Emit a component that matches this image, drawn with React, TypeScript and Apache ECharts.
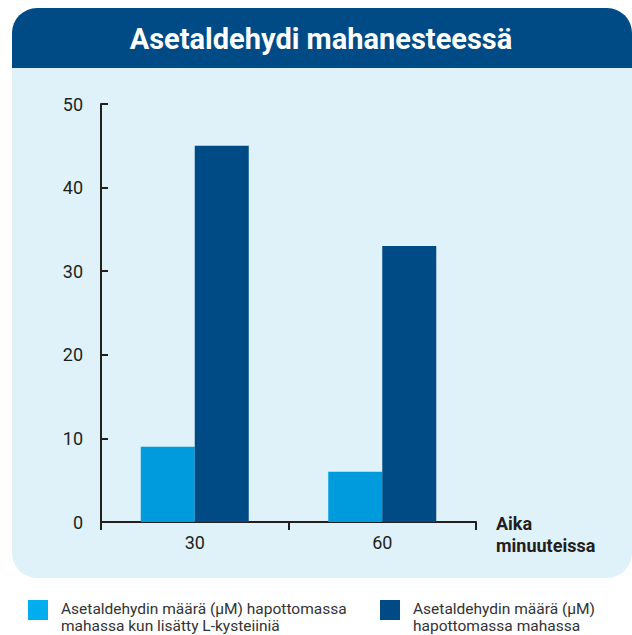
import React, { useEffect, useRef } from "react";
import * as echarts from "echarts";

const title = "Asetaldehydi mahanesteessä";
const categories = ["30", "60"];
const seriesNames = [
  "Asetaldehydin määrä (µM) hapottomassa\nmahassa kun lisätty L-kysteiiniä",
  "Asetaldehydin määrä (µM)\nhapottomassa mahassa",
];
const withCysteine = [9, 6];
const withoutCysteine = [45, 33];
const xAxisName = "Aika\nminuuteissa";

const FONT = "Roboto, 'Noto Sans', sans-serif";
const DARK = "#004b85";
const LIGHT = "#009bdc";
const LIGHT_LEGEND = "#00aeef";
const PANEL = "#dff2fa";
const INK = "#231f20";

export default function App() {
  const ref = useRef<HTMLDivElement>(null);
  useEffect(() => {
    if (!ref.current) return;
    const chart = echarts.init(ref.current, undefined, { renderer: "svg" });
    const legendColors = [LIGHT_LEGEND, DARK];
    const legendX = [28, 380];
    const legendGraphics = seriesNames.map((name, i) => ({
      type: "group",
      x: legendX[i],
      y: 600,
      children: [
        {
          type: "rect",
          shape: { x: 0, y: 0, width: 20, height: 20 },
          style: { fill: legendColors[i] },
        },
        {
          type: "text",
          x: 33,
          y: 0,
          style: {
            text: name,
            fill: "#333333",
            font: `15.5px ${FONT}`,
            lineHeight: 17,
            align: "left",
            verticalAlign: "top",
          },
        },
      ],
    }));
    chart.setOption({
      animation: false,
      backgroundColor: "#ffffff",
      textStyle: { fontFamily: FONT },
      graphic: [
        {
          type: "rect",
          z: -10,
          shape: { x: 12, y: 8, width: 620, height: 570, r: 25 },
          style: { fill: PANEL },
        },
        {
          type: "rect",
          z: -9,
          shape: { x: 12, y: 8, width: 620, height: 60, r: [25, 25, 0, 0] },
          style: { fill: DARK },
        },
        {
          type: "text",
          z: 10,
          x: 321,
          y: 39,
          style: {
            text: title,
            fill: "#ffffff",
            font: `bold 29px ${FONT}`,
            align: "center",
            verticalAlign: "middle",
          },
        },
        {
          type: "text",
          z: 10,
          x: 496,
          y: 512,
          style: {
            text: xAxisName,
            fill: INK,
            font: `bold 18px ${FONT}`,
            lineHeight: 22,
            align: "left",
            verticalAlign: "top",
          },
        },
        ...legendGraphics,
      ],
      grid: { left: 101, top: 104, width: 375, height: 418, containLabel: false },
      xAxis: {
        type: "category",
        data: categories,
        boundaryGap: true,
        axisLine: { show: true, lineStyle: { color: INK, width: 2 } },
        axisTick: { show: true, inside: false, length: 8, lineStyle: { color: INK, width: 2 } },
        axisLabel: { fontFamily: FONT, fontSize: 18, color: INK, margin: 11 },
        splitLine: { show: false },
      },
      yAxis: {
        type: "value",
        min: 0,
        max: 50,
        interval: 10,
        axisLine: { show: true, lineStyle: { color: INK, width: 2 } },
        axisTick: { show: true, inside: true, length: 7, lineStyle: { color: INK, width: 2 } },
        axisLabel: { fontFamily: FONT, fontSize: 18, color: INK, margin: 18 },
        splitLine: { show: false },
      },
      series: [
        {
          name: seriesNames[0],
          type: "bar",
          data: withCysteine,
          barWidth: 54,
          barGap: "0%",
          itemStyle: { color: LIGHT },
        },
        {
          name: seriesNames[1],
          type: "bar",
          data: withoutCysteine,
          barWidth: 54,
          barGap: "0%",
          itemStyle: { color: DARK },
        },
      ],
    });
    return () => chart.dispose();
  }, []);
  return (
    <div
      ref={ref}
      style={{ position: "absolute", left: 0, top: 0, width: 632, height: 635 }}
    />
  );
}
